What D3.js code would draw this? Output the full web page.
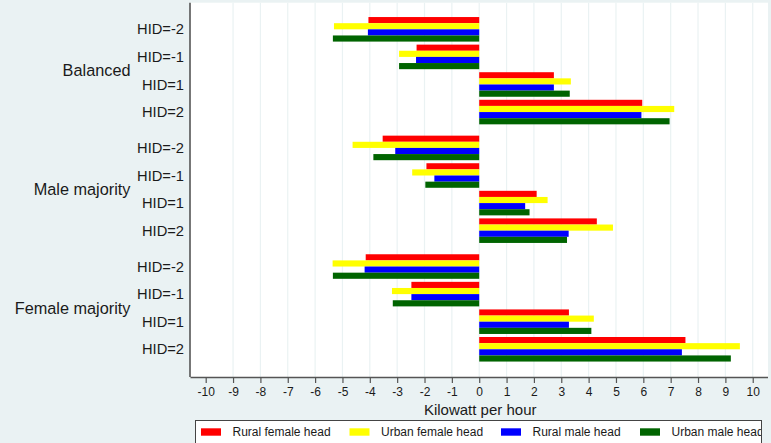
<!DOCTYPE html>
<html>
<head>
<meta charset="utf-8">
<script src="https://cdn.jsdelivr.net/npm/d3@7"></script>
<style>
  html, body { margin: 0; padding: 0; background: #eaf2f3; }
  svg { display: block; }
  text { font-family: "Liberation Sans", Arial, sans-serif; fill: #1a1a1a; }
</style>
</head>
<body>
<svg id="chart" width="771" height="443"></svg>
<script>
// ---------- data ----------
const groups = ["Balanced", "Male majority", "Female majority"];
const hidLabels = ["HID=-2", "HID=-1", "HID=1", "HID=2"];
const seriesNames = ["Rural female head", "Urban female head", "Rural male head", "Urban male head"];
const seriesColors = ["#ff0000", "#ffff00", "#0000ff", "#006400"];
const xTicks = [-10, -9, -8, -7, -6, -5, -4, -3, -2, -1, 0, 1, 2, 3, 4, 5, 6, 7, 8, 9, 10];
const xTitle = "Kilowatt per hour";

// values ordered: Balanced(HID -2,-1,1,2), Male majority(...), Female majority(...)
const ruralFemale = [-4.05, -2.29, 2.73, 5.96,  -3.53, -1.93, 2.10, 4.30,  -4.15, -2.48, 3.28, 7.54];
const urbanFemale = [-5.31, -2.93, 3.35, 7.13,  -4.63, -2.45, 2.50, 4.89,  -5.36, -3.19, 4.19, 9.53];
const ruralMale   = [-4.07, -2.31, 2.73, 5.93,  -3.07, -1.64, 1.68, 3.27,  -4.19, -2.48, 3.28, 7.41];
const urbanMale   = [-5.35, -2.93, 3.31, 6.96,  -3.87, -1.97, 1.84, 3.21,  -5.35, -3.16, 4.10, 9.20];
const seriesValues = [ruralFemale, urbanFemale, ruralMale, urbanMale];

// ---------- layout ----------
const svg = d3.select("#chart");
const plotLeft = 190, plotRight = 768, plotTop = 2.7, plotBottom = 377;

const majorGap = 0.3;       // extra gap between major groups (in slot units)
const barBand = 0.89;       // fraction of slot occupied by the 4 bars
const nSeries = seriesNames.length;

function slotPos(gi, hi) { return gi * (hidLabels.length + majorGap) + hi; }
const lastSlot = slotPos(groups.length - 1, hidLabels.length - 1);

const x = d3.scaleLinear().domain([-10.574, 10.54]).range([plotLeft, plotRight - 0.5]);
const y = d3.scaleLinear().domain([-0.52, lastSlot + barBand + 0.56]).range([plotTop, plotBottom]);

// plot region background
svg.append("rect")
  .attr("x", plotLeft).attr("y", plotTop)
  .attr("width", plotRight - plotLeft).attr("height", plotBottom - plotTop)
  .attr("fill", "#ffffff");

// grid lines (no line at the axis minimum)
svg.append("g").selectAll("line")
  .data(xTicks.filter(t => t !== -10))
  .join("line")
  .attr("x1", d => x(d)).attr("x2", d => x(d))
  .attr("y1", plotTop).attr("y2", plotBottom)
  .attr("stroke", "#eaf2f3").attr("stroke-width", 1.2);

// bars
const barData = [];
groups.forEach((g, gi) => {
  hidLabels.forEach((h, hi) => {
    seriesValues.forEach((vals, si) => {
      barData.push({ gi, hi, si, v: vals[gi * hidLabels.length + hi] });
    });
  });
});
const barH = barBand / nSeries;
svg.append("g").selectAll("rect")
  .data(barData)
  .join("rect")
  .attr("x", d => x(Math.min(0, d.v)))
  .attr("width", d => Math.abs(x(d.v) - x(0)))
  .attr("y", d => y(slotPos(d.gi, d.hi) + d.si * barH))
  .attr("height", d => y(barH) - y(0))
  .attr("fill", d => seriesColors[d.si]);

// left axis line
svg.append("line")
  .attr("x1", plotLeft).attr("x2", plotLeft)
  .attr("y1", plotTop).attr("y2", plotBottom)
  .attr("stroke", "#555").attr("stroke-width", 1.6);

// bottom axis
const xAxis = d3.axisBottom(x).tickValues(xTicks).tickSize(6).tickSizeOuter(0).tickPadding(4)
  .tickFormat(d => String(d));
const gx = svg.append("g").attr("transform", `translate(0,${plotBottom})`).call(xAxis);
gx.select(".domain").attr("stroke", "#555").attr("stroke-width", 1.6);
gx.selectAll(".tick line").attr("stroke", "#555").attr("stroke-width", 1.2);
gx.selectAll(".tick text")
  .style("font-family", "'Liberation Sans', Arial, sans-serif")
  .style("font-size", "12px").attr("fill", "#1a1a1a");

// x title
svg.append("text")
  .attr("x", x(0) + 1).attr("y", 415)
  .attr("text-anchor", "middle")
  .style("font-size", "15px")
  .text(xTitle);

// sub-category labels
const hidData = [];
groups.forEach((g, gi) => hidLabels.forEach((h, hi) => hidData.push({ gi, hi, label: h })));
svg.append("g").selectAll("text")
  .data(hidData)
  .join("text")
  .attr("x", 184)
  .attr("y", d => y(slotPos(d.gi, d.hi) + barBand / 2))
  .attr("dy", "0.35em")
  .attr("text-anchor", "end")
  .style("font-size", "14.7px")
  .text(d => d.label);

// group labels
svg.append("g").selectAll("text")
  .data(groups)
  .join("text")
  .attr("x", 130.5)
  .attr("y", (d, gi) => (y(slotPos(gi, 0)) + y(slotPos(gi, hidLabels.length - 1) + barBand)) / 2)
  .attr("dy", "0.35em")
  .attr("text-anchor", "end")
  .style("font-size", "16.3px")
  .text(d => d);

// legend
const legend = svg.append("g");
legend.append("rect")
  .attr("x", 195.5).attr("y", 420.5)
  .attr("width", 566).attr("height", 40)
  .attr("fill", "#ffffff").attr("stroke", "#444").attr("stroke-width", 1);
const swatchX = [201, 349.5, 501, 640];
const items = legend.selectAll("g.item")
  .data(seriesNames)
  .join("g").attr("class", "item")
  .attr("transform", (d, i) => `translate(${swatchX[i]},0)`);
items.append("rect")
  .attr("x", 0).attr("y", 428.3)
  .attr("width", 20).attr("height", 7.4)
  .attr("fill", (d, i) => seriesColors[i]);
items.append("text")
  .attr("x", 31.5).attr("y", 432)
  .attr("dy", "0.35em")
  .style("font-size", "12px")
  .text(d => d);
// clip legend text at the border like the reference
svg.append("rect").attr("x", 762).attr("y", 420).attr("width", 9).attr("height", 23).attr("fill", "#eaf2f3");
svg.append("line").attr("x1", 761.5).attr("x2", 761.5).attr("y1", 420.5).attr("y2", 443)
  .attr("stroke", "#444").attr("stroke-width", 1);
</script>
</body>
</html>
